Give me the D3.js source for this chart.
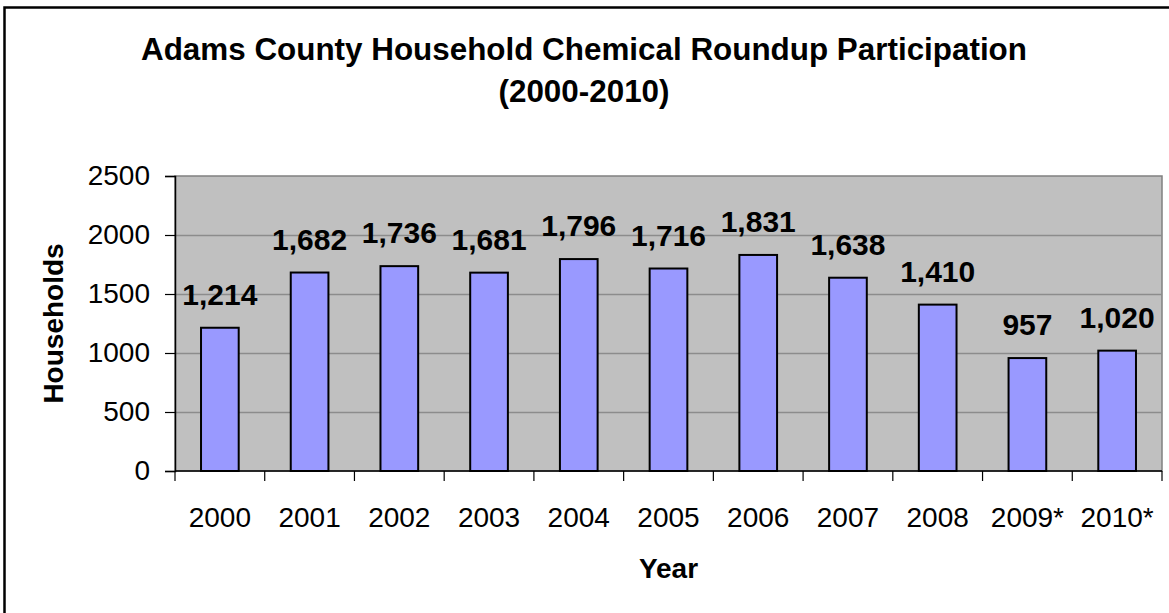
<!DOCTYPE html>
<html>
<head>
<meta charset="utf-8">
<script src="https://cdn.jsdelivr.net/npm/d3@7"></script>
<style>
  body { margin: 0; background: #fff; }
  text { font-family: "Liberation Sans", Arial, sans-serif; fill: #000; }
</style>
</head>
<body>
<svg id="chart" width="1169" height="613"></svg>
<script>
var years = ['2000', '2001', '2002', '2003', '2004', '2005', '2006', '2007', '2008', '2009*', '2010*'];
var households = [1214, 1682, 1736, 1681, 1796, 1716, 1831, 1638, 1410, 957, 1020];
var yTicks = [0, 500, 1000, 1500, 2000, 2500];
var titleLines = ['Adams County Household Chemical Roundup Participation', '(2000-2010)'];

var data = years.map(function(y, i) { return { year: y, value: households[i] }; });

var svg = d3.select('#chart');

// plot area bounds (named so they don't clash with window.top)
var plotLeft = 175, plotRight = 1162, plotTop = 176, plotBottom = 471;

// outer chart frame (runs off the right and bottom of the picture)
svg.append('rect')
  .attr('x', 4.5)
  .attr('y', 7.5)
  .attr('width', 1190)
  .attr('height', 620)
  .attr('fill', '#fff')
  .attr('stroke', '#000')
  .attr('stroke-width', 2.5);

var x = d3.scaleBand()
  .domain(years)
  .range([plotLeft, plotRight])
  .paddingInner(0.58)
  .paddingOuter(0.29);

var xBand = d3.scaleBand()
  .domain(years)
  .range([plotLeft, plotRight]);

var y = d3.scaleLinear()
  .domain([0, 2500])
  .range([plotBottom, plotTop]);

// gray plot background
svg.append('rect')
  .attr('x', plotLeft)
  .attr('y', plotTop)
  .attr('width', plotRight - plotLeft)
  .attr('height', plotBottom - plotTop)
  .attr('fill', '#c0c0c0')
  .attr('stroke', '#808080')
  .attr('stroke-width', 1.5);

// horizontal gridlines
svg.append('g')
  .selectAll('line')
  .data(yTicks.slice(1, -1))
  .enter()
  .append('line')
  .attr('x1', plotLeft)
  .attr('x2', plotRight)
  .attr('y1', function(d) { return Math.round(y(d)) + 0.5; })
  .attr('y2', function(d) { return Math.round(y(d)) + 0.5; })
  .attr('stroke', '#8c8c8c')
  .attr('stroke-width', 1.5);

// bars
svg.append('g')
  .selectAll('rect')
  .data(data)
  .enter()
  .append('rect')
  .attr('x', function(d) { return x(d.year); })
  .attr('y', function(d) { return y(d.value); })
  .attr('width', x.bandwidth())
  .attr('height', function(d) { return plotBottom - y(d.value); })
  .attr('fill', '#9999ff')
  .attr('stroke', '#000')
  .attr('stroke-width', 2);

// value labels above bars
svg.append('g')
  .selectAll('text')
  .data(data)
  .enter()
  .append('text')
  .attr('x', function(d) { return x(d.year) + x.bandwidth() / 2; })
  .attr('y', function(d) { return y(d.value) - 23; })
  .attr('text-anchor', 'middle')
  .attr('font-size', 30)
  .attr('font-weight', 'bold')
  .text(function(d) { return d3.format(',')(d.value); });

// y axis
var yAxis = d3.axisLeft(y)
  .tickValues(yTicks)
  .tickSize(10)
  .tickPadding(15)
  .tickFormat(d3.format('d'));

var yG = svg.append('g')
  .attr('transform', 'translate(' + plotLeft + ',0)')
  .call(yAxis);
yG.select('.domain').attr('stroke', '#000').attr('stroke-width', 1.5);
yG.selectAll('.tick line').attr('stroke', '#000').attr('stroke-width', 1.2);
yG.selectAll('.tick text')
  .attr('font-size', 28)
  .attr('font-family', '"Liberation Sans", Arial, sans-serif')
  .attr('fill', '#000');

// x axis: ticks sit on the category boundaries
var xG = svg.append('g')
  .attr('transform', 'translate(0,' + plotBottom + ')');

xG.append('line')
  .attr('x1', plotLeft)
  .attr('x2', plotRight)
  .attr('y1', 0)
  .attr('y2', 0)
  .attr('stroke', '#000')
  .attr('stroke-width', 1.5);

xG.selectAll('.xtick')
  .data(years.concat(['end']))
  .enter()
  .append('line')
  .attr('class', 'xtick')
  .attr('x1', function(d) { return d === 'end' ? plotRight : xBand(d); })
  .attr('x2', function(d) { return d === 'end' ? plotRight : xBand(d); })
  .attr('y1', 0)
  .attr('y2', 10)
  .attr('stroke', '#000')
  .attr('stroke-width', 1.2);

xG.selectAll('.xlabel')
  .data(years)
  .enter()
  .append('text')
  .attr('class', 'xlabel')
  .attr('x', function(d) { return xBand(d) + xBand.bandwidth() / 2; })
  .attr('y', 56)
  .attr('text-anchor', 'middle')
  .attr('font-size', 28)
  .text(function(d) { return d; });

// axis titles
svg.append('text')
  .attr('x', (plotLeft + plotRight) / 2)
  .attr('y', 578)
  .attr('text-anchor', 'middle')
  .attr('font-size', 28)
  .attr('font-weight', 'bold')
  .text('Year');

svg.append('text')
  .attr('transform', 'translate(63,' + (plotTop + plotBottom) / 2 + ') rotate(-90)')
  .attr('text-anchor', 'middle')
  .attr('font-size', 28)
  .attr('font-weight', 'bold')
  .text('Households');

// chart title
svg.append('text')
  .attr('text-anchor', 'middle')
  .attr('font-size', 31.4)
  .attr('font-weight', 'bold')
  .selectAll('tspan')
  .data(titleLines)
  .enter()
  .append('tspan')
  .attr('x', 584)
  .attr('y', function(d, i) { return 60 + i * 42; })
  .text(function(d) { return d; });
</script>
</body>
</html>
